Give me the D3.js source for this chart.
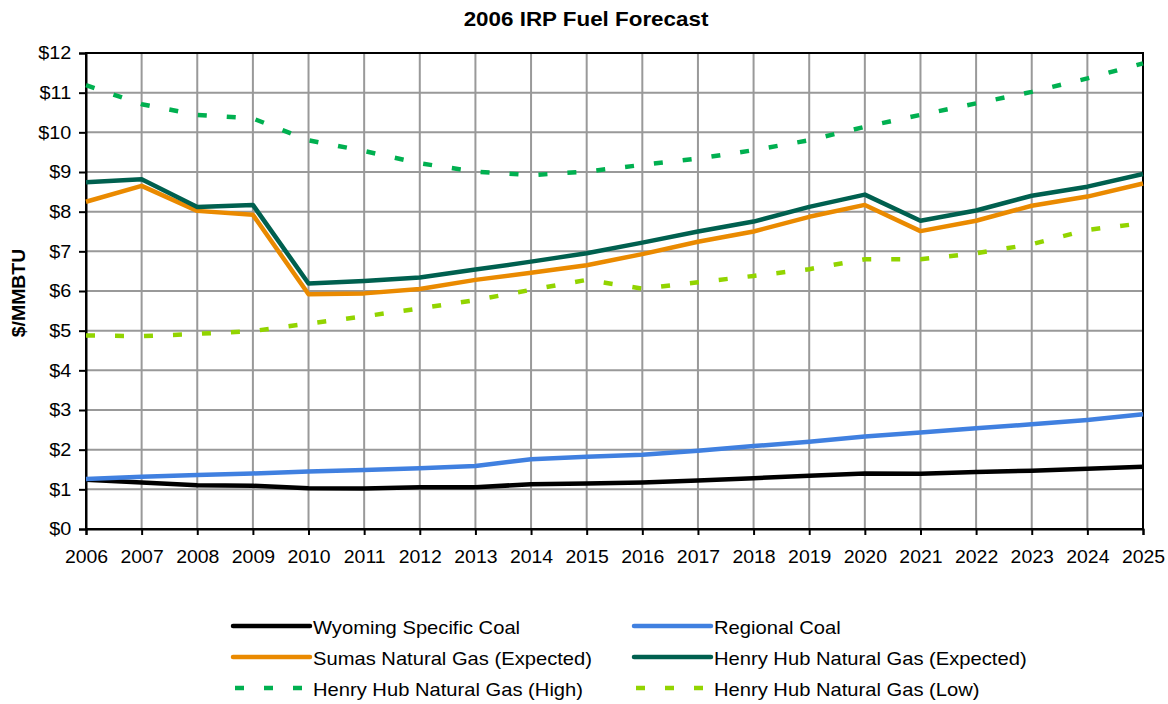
<!DOCTYPE html>
<html><head><meta charset="utf-8">
<script src="https://cdn.jsdelivr.net/npm/d3@7"></script>
<style>body{margin:0;background:#fff;font-family:Arial,"Liberation Sans",sans-serif;}</style>
</head><body><svg id="c" width="1168" height="704"></svg>
<script>
const years = [2006,2007,2008,2009,2010,2011,2012,2013,2014,2015,2016,2017,2018,2019,2020,2021,2022,2023,2024,2025];
const wyomingCoal = [1.24,1.17,1.10,1.09,1.03,1.02,1.05,1.05,1.13,1.15,1.17,1.22,1.28,1.34,1.40,1.39,1.44,1.47,1.52,1.57];
const regionalCoal = [1.26,1.32,1.36,1.40,1.45,1.49,1.53,1.59,1.76,1.82,1.87,1.97,2.09,2.20,2.33,2.43,2.54,2.64,2.75,2.89];
const sumasExpected = [8.25,8.65,8.02,7.92,5.92,5.94,6.05,6.28,6.46,6.65,6.93,7.24,7.50,7.87,8.17,7.51,7.77,8.15,8.38,8.71];
const henryExpected = [8.74,8.82,8.12,8.17,6.19,6.25,6.34,6.54,6.74,6.95,7.22,7.50,7.75,8.12,8.43,7.77,8.03,8.40,8.63,8.95];
const henryHigh = [11.19,10.71,10.44,10.35,9.80,9.53,9.22,9.01,8.92,9.01,9.18,9.34,9.55,9.80,10.14,10.44,10.73,11.02,11.36,11.74];
const henryLow = [4.88,4.86,4.92,4.99,5.18,5.36,5.56,5.77,6.03,6.28,6.06,6.22,6.38,6.55,6.80,6.80,6.95,7.18,7.54,7.71];
const yTicks = [0,1,2,3,4,5,6,7,8,9,10,11,12];

const series = [
  {name:"Wyoming Specific Coal", values:wyomingCoal, color:"#000000", dash:null},
  {name:"Regional Coal", values:regionalCoal, color:"#4080E0", dash:null},
  {name:"Sumas Natural Gas (Expected)", values:sumasExpected, color:"#EA8A00", dash:null},
  {name:"Henry Hub Natural Gas (Expected)", values:henryExpected, color:"#00604F", dash:null},
  {name:"Henry Hub Natural Gas (High)", values:henryHigh, color:"#00B050", dash:"9,20"},
  {name:"Henry Hub Natural Gas (Low)", values:henryLow, color:"#92D400", dash:"9,20"}
];

const FONT = "Arial, 'Liberation Sans', sans-serif";
const svg = d3.select("#c").style("font-family",FONT);
const L=86, R=1143, T=53, B=529;
const x = d3.scaleLinear().domain([2006,2025]).range([L,R]);
const y = d3.scaleLinear().domain([0,12]).range([B,T]);

// gridlines
svg.append("g").selectAll("line").data(years).join("line")
  .attr("x1",d=>x(d)).attr("x2",d=>x(d)).attr("y1",T).attr("y2",B)
  .attr("stroke","#999").attr("stroke-width",2);
svg.append("g").selectAll("line").data(yTicks).join("line")
  .attr("x1",L).attr("x2",R).attr("y1",d=>y(d)).attr("y2",d=>y(d))
  .attr("stroke","#999").attr("stroke-width",2);

// frame
svg.append("rect").attr("x",L).attr("y",T).attr("width",R-L).attr("height",B-T)
  .attr("fill","none").attr("stroke","#000").attr("stroke-width",2);

// axes
const xAxis = svg.append("g").attr("transform",`translate(0,${B})`)
  .call(d3.axisBottom(x).tickValues(years).tickFormat(d3.format("d")).tickSize(6).tickPadding(6));
const yAxis = svg.append("g").attr("transform",`translate(${L},0)`)
  .call(d3.axisLeft(y).tickValues(yTicks).tickFormat(d=>"$"+d).tickSize(7).tickPadding(7));
[xAxis,yAxis].forEach(a=>{
  a.select(".domain").attr("stroke","#000").attr("stroke-width",2);
  a.selectAll(".tick line").attr("stroke","#000").attr("stroke-width",2);
  a.selectAll("text").attr("fill","#000").style("font-size","18px").style("font-family",FONT);
});
xAxis.selectAll("text").attr("transform","scale(1.08,1)").attr("y",21);
yAxis.selectAll("text").attr("transform","scale(1.1,1)").attr("x",-13.5);

// lines
const line = d3.line().x((d,i)=>x(years[i])).y(d=>y(d));
series.forEach(s=>{
  svg.append("path").datum(s.values).attr("d",line)
    .attr("fill","none").attr("stroke",s.color).attr("stroke-width",4.5)
    .attr("stroke-linejoin","round")
    .attr("stroke-dasharray",s.dash);
});

// title
svg.append("g").attr("transform","translate(586,26) scale(1.12,1)")
  .append("text").attr("text-anchor","middle")
  .style("font-size","20px").style("font-weight","bold").text("2006 IRP Fuel Forecast");
svg.append("g").attr("transform","translate(25,293) rotate(-90) scale(1.08,1)")
  .append("text").attr("text-anchor","middle")
  .style("font-size","18px").style("font-weight","bold").text("$/MMBTU");

// legend
const legPos = [[233,626],[634,626],[233,657],[634,657],[233,688],[634,688]];
series.forEach((s,i)=>{
  const [lx,ly] = legPos[i];
  const g = svg.append("g");
  g.append("line").attr("x1",lx+(s.dash?2:0)).attr("x2",lx+77).attr("y1",ly).attr("y2",ly)
    .attr("stroke",s.color).attr("stroke-width",4.5)
    .attr("stroke-dasharray",s.dash?"9,20":null)
    .attr("stroke-linecap",s.dash?"butt":"round");
  g.append("g").attr("transform",`translate(${lx+80},${ly+8}) scale(1.12,1)`)
    .append("text").style("font-size","18px").text(s.name);
});
</script></body></html>
